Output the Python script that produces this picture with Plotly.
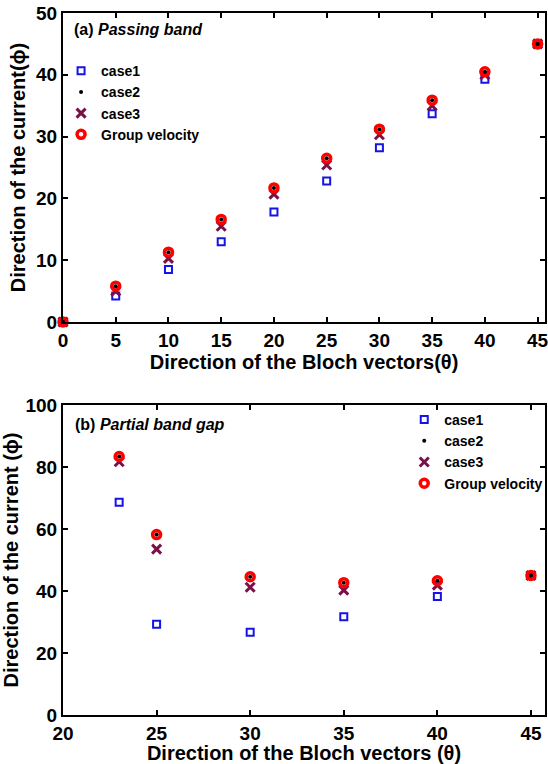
import plotly.graph_objects as go

# Panel (a): Passing band
theta_a = [0, 5, 10, 15, 20, 25, 30, 35, 40, 45]
case1_a = [0, 4.2, 8.5, 13.0, 17.8, 22.8, 28.2, 33.7, 39.3, 45.0]
case2_a = [0, 5.8, 11.3, 16.6, 21.7, 26.5, 31.2, 35.9, 40.5, 45.0]
case3_a = [0, 5.0, 10.3, 15.5, 20.7, 25.4, 30.3, 35.0, 40.0, 45.0]
group_a = [0, 5.8, 11.3, 16.6, 21.7, 26.5, 31.2, 35.9, 40.5, 45.0]

# Panel (b): Partial band gap
theta_b = [23, 25, 30, 35, 40, 45]
case1_b = [68.6, 29.3, 26.7, 31.7, 38.2, 45.0]
case2_b = [83.4, 58.2, 44.6, 42.7, 43.3, 45.0]
case3_b = [81.7, 53.5, 41.2, 40.3, 41.9, 45.0]
group_b = [83.4, 58.2, 44.6, 42.7, 43.3, 45.0]

BLUE = "#1414e6"
BLACK = "#000000"
PURPLE = "#7a1048"
RED = "#ff0000"
FONT = "Liberation Sans, Arial, sans-serif"

fig = go.Figure()

def add_panel(x, c1, c2, c3, gv, xa, ya, leg):
    fig.add_trace(go.Scatter(x=x, y=c1, mode="markers", name="case1", legend=leg,
                             legendrank=1, xaxis=xa, yaxis=ya, cliponaxis=False,
                             marker=dict(symbol="square-open", size=7, color=BLUE,
                                         line=dict(width=2, color=BLUE))))
    fig.add_trace(go.Scatter(x=x, y=c3, mode="markers", name="case3", legend=leg,
                             legendrank=3, xaxis=xa, yaxis=ya, cliponaxis=False,
                             marker=dict(symbol="x-thin-open", size=9, color=PURPLE,
                                         line=dict(width=3, color=PURPLE))))
    fig.add_trace(go.Scatter(x=x, y=gv, mode="markers", name="Group velocity", legend=leg,
                             legendrank=4, xaxis=xa, yaxis=ya, cliponaxis=False,
                             marker=dict(symbol="circle-open", size=8, color=RED,
                                         line=dict(width=3.5, color=RED))))
    fig.add_trace(go.Scatter(x=x, y=c2, mode="markers", name="case2", legend=leg,
                             legendrank=2, xaxis=xa, yaxis=ya, cliponaxis=False,
                             marker=dict(symbol="circle", size=4, color=BLACK)))

add_panel(theta_a, case1_a, case2_a, case3_a, group_a, "x", "y", "legend")
add_panel(theta_b, case1_b, case2_b, case3_b, group_b, "x2", "y2", "legend2")

axis_common = dict(showline=True, linecolor="black", linewidth=2, mirror="ticks",
                   ticks="inside", ticklen=5, tickwidth=2, tickcolor="black",
                   showgrid=False, zeroline=False, automargin=False,
                   ticklabeloverflow="allow",
                   tickfont=dict(family=FONT, size=19, color="black", weight="bold"))
title_font = dict(family=FONT, size=20, color="black", weight="bold")

legend_common = dict(font=dict(family=FONT, size=14, color="black", weight="bold"),
                     bgcolor="rgba(0,0,0,0)", tracegroupgap=0, itemwidth=30,
                     xanchor="left", yanchor="top")

fig.update_layout(
    width=548, height=764,
    margin=dict(l=63, r=3, t=13, b=49, autoexpand=False),
    paper_bgcolor="white", plot_bgcolor="white",
    xaxis=dict(domain=[0, 1], range=[0, 45.7], tickvals=[0, 5, 10, 15, 20, 25, 30, 35, 40, 45],
               anchor="y", title=dict(text="Direction of the Bloch vectors(θ)", font=title_font, standoff=1),
               **axis_common),
    yaxis=dict(domain=[0.5598, 1], range=[0, 50], tickvals=[0, 10, 20, 30, 40, 50],
               anchor="x", title=dict(text="Direction of the current(ϕ)", font=title_font, standoff=5),
               **axis_common),
    xaxis2=dict(domain=[0, 1], range=[20, 45.75], tickvals=[20, 25, 30, 35, 40, 45],
                anchor="y2", title=dict(text="Direction of the Bloch vectors (θ)", font=title_font, standoff=1),
                **axis_common),
    yaxis2=dict(domain=[0, 0.4416], range=[0, 100], tickvals=[0, 20, 40, 60, 80, 100],
                anchor="x2", title=dict(text="Direction of the current (ϕ)", font=title_font, standoff=5),
                **axis_common),
    legend=dict(x=-0.004, y=0.94, **legend_common),
    legend2=dict(x=0.708, y=0.443, **legend_common),
    annotations=[
        dict(text="<b>(a)</b> <b><i>Passing band</i></b>", xref="paper", yref="paper",
             x=0.018, y=0.977, xanchor="left", yanchor="middle", showarrow=False,
             font=dict(family=FONT, size=16, color="black")),
        dict(text="<b>(b)</b> <b><i>Partial band gap</i></b>", xref="paper", yref="paper",
             x=0.02, y=0.4145, xanchor="left", yanchor="middle", showarrow=False,
             font=dict(family=FONT, size=16, color="black")),
    ],
)

fig.write_html("out.html")
